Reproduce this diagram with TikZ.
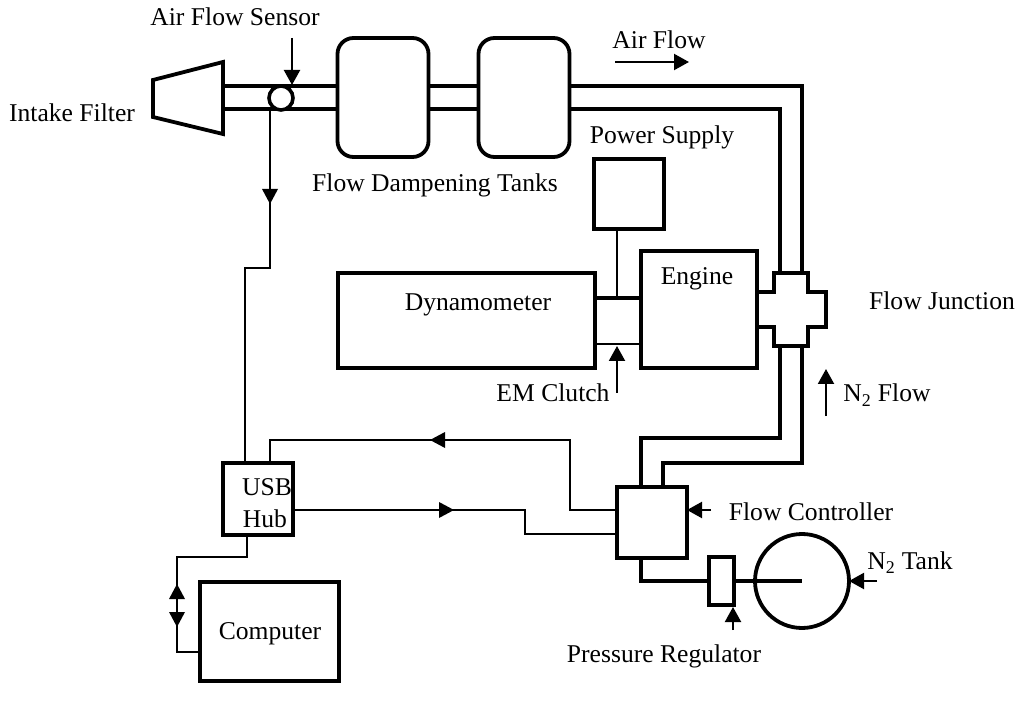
\documentclass[tikz,border=0pt]{standalone}
\usepackage{fontspec}
\setmainfont{Liberation Serif}
\usetikzlibrary{arrows.meta}
\newcommand{\pxu}[1]{#1*0.75pt}
\tikzset{
  x=0.75pt,y=-0.75pt,
  box/.style={draw=black,line width=\pxu{3.8},inner sep=0pt,outer sep=0pt,fill=white},
  tank/.style={box,rounded corners=\pxu{16},minimum width=\pxu{91},minimum height=\pxu{119}},
  pipe/.style={draw=black,line width=\pxu{3.6},line cap=butt,line join=miter},
  wire/.style={draw=black,line width=\pxu{2.1},line join=miter},
  tipped/.style={wire,-{Triangle[length=\pxu{15},width=\pxu{16}]}},
  lbl/.style={font=\fontsize{19.2pt}{23pt}\selectfont,anchor=base,inner sep=0pt,text=black}
}
\begin{document}
\begin{tikzpicture}
\useasboundingbox (0,0) rectangle (1018,702);
% named levels
\coordinate (topY) at (0,86);
\coordinate (botY) at (0,109);
\coordinate (outerX) at (802,0);
\coordinate (innerX) at (780,0);

% tanks
\node[tank] (tankA) at (383,97.5) {};
\node[tank] (tankB) at (524,97.5) {};

% intake filter
\draw[box,line join=miter] (153,80) -- (223,62) -- (223,134) -- (153,117) -- cycle;
\coordinate (filterTop) at (223,86);
\coordinate (filterBot) at (223,109);

% junction
\draw[box,line join=miter,fill=none] (757,292) -- (774,292) -- (774,273) -- (808,273) -- (808,292) -- (826,292) -- (826,327) -- (808,327) -- (808,346) -- (774,346) -- (774,327) -- (757,327);
\coordinate (junIn) at (780,273);
\coordinate (junOut) at (802,273);
\coordinate (junInB) at (780,346);
\coordinate (junOutB) at (802,346);

% boxes
\node[box,minimum width=\pxu{257},minimum height=\pxu{95}] (dyno) at (466.5,320.5) {};
\node[box,minimum width=\pxu{116},minimum height=\pxu{117}] (engine) at (699,309.5) {};
\node[box,minimum width=\pxu{70},minimum height=\pxu{70}] (power) at (629,194) {};
\node[box,minimum width=\pxu{70},minimum height=\pxu{71}] (ctrl) at (652,522.5) {};
\node[box,minimum width=\pxu{25},minimum height=\pxu{48}] (reg) at (721.5,581) {};
\node[box,minimum width=\pxu{70},minimum height=\pxu{72}] (hub) at (258,499) {};
\node[box,minimum width=\pxu{139},minimum height=\pxu{99}] (comp) at (269.5,631.5) {};
\node[draw=black,line width=\pxu{3.8},circle,inner sep=0pt,outer sep=0pt,minimum size=\pxu{94}] (tankN) at (802,581) {};

% air pipes
\draw[pipe] (filterTop) -- (tankA.west |- topY);
\draw[pipe] (filterBot) -- (tankA.west |- botY);
\draw[pipe] (tankA.east |- topY) -- (tankB.west |- topY);
\draw[pipe] (tankA.east |- botY) -- (tankB.west |- botY);
\draw[pipe] (tankB.east |- topY) -- (outerX |- topY) -- (junOut);
\draw[pipe] (tankB.east |- botY) -- (innerX |- botY) -- (junIn);

% sensor
\node[draw=black,fill=white,line width=\pxu{3.6},circle,inner sep=0pt,outer sep=0pt,minimum size=\pxu{24}] (sensor) at (281,98) {};

% clutch
\coordinate (clutchTL) at (595,298);
\coordinate (clutchTR) at (641,298);
\coordinate (clutchBL) at (595,344);
\coordinate (clutchBR) at (641,344);
\draw[pipe] (clutchTL) -- (clutchTR);
\draw[wire,line width=\pxu{2.6}] (clutchBL) -- (clutchBR);
\coordinate (powerFoot) at (617,298);
\draw[wire] (power.south -| powerFoot) -- (powerFoot);

% nitrogen pipes
\coordinate (ctrlIn) at (641,487);
\coordinate (ctrlOut) at (663,487);
\draw[pipe] (junInB) -- (780,438) -- (641,438) -- (ctrlIn);
\draw[pipe] (junOutB) -- (802,463) -- (663,463) -- (ctrlOut);
\coordinate (ctrlBot) at (641,558);
\draw[pipe] (ctrlBot) -- (641,581) -- (reg.west);
\draw[pipe] (reg.east) -- (tankN.center);

% signal wires
\coordinate (sensorFoot) at (270,109);
\coordinate (hubTopL) at (245,463);
\coordinate (hubTopR) at (270,463);
\coordinate (hubBot) at (247,535);
\coordinate (compL) at (200,652);
\draw[wire] (sensorFoot) -- (270,268) -- (245,268) -- (hubTopL);
\draw[wire] (hubTopR) -- (270,440) -- (570,440) -- (570,510) -- (ctrl.west |- 0,510);
\draw[wire] (hub.east |- 0,510) -- (525,510) -- (525,534) -- (ctrl.west |- 0,534);
\draw[wire] (hubBot) -- (247,557) -- (177,557) -- (177,652) -- (compL);
\fill (270,204) -- (262,189) -- (278,189) -- cycle;
\fill (430,440) -- (445,432) -- (445,448) -- cycle;
\fill (454,510) -- (439,502) -- (439,518) -- cycle;
\fill (177,584) -- (169,599) -- (185,599) -- cycle;
\fill (177,627) -- (169,612) -- (185,612) -- cycle;

% pointers
\coordinate (sensorSrc) at (292,38);
\coordinate (sensorTip) at (292,85);
\coordinate (airA) at (615,62);
\coordinate (airB) at (689,62);
\coordinate (clutchSrc) at (617,393);
\coordinate (clutchTip) at (617,346);
\coordinate (nflowA) at (826,416);
\coordinate (nflowB) at (826,369);
\coordinate (fcSrc) at (711,510);
\coordinate (regSrc) at (733,630);
\coordinate (regTip) at (733,607);
\coordinate (ntSrc) at (877,581);
\draw[tipped] (sensorSrc) -- (sensorTip);
\draw[tipped] (airA) -- (airB);
\draw[tipped] (clutchSrc) -- (clutchTip);
\draw[tipped] (nflowA) -- (nflowB);
\draw[tipped] (fcSrc) -- (ctrl.east |- fcSrc);
\draw[tipped] (regSrc) -- (regTip);
\draw[tipped] (ntSrc) -- (tankN.east |- ntSrc);

% labels
\node[lbl] (tAFS) at (235,26) {Air Flow Sensor};
\node[lbl] (tIF) at (72,122) {Intake Filter};
\node[lbl] (tFDT) at (435,192) {Flow Dampening Tanks};
\node[lbl] (tAF) at (659,49) {Air Flow};
\node[lbl] (tPS) at (662,144) {Power Supply};
\node[lbl] (tDy) at (478,311) {Dynamometer};
\node[lbl] (tEn) at (697,285) {Engine};
\node[lbl] (tFJ) at (942,310) {Flow Junction};
\node[lbl] (tEM) at (553,402) {EM Clutch};
\node[lbl] (tNF) at (887,402) {N\textsubscript{2} Flow};
\node[lbl] (tUS) at (267,495) {USB};
\node[lbl] (tHu) at (265,527) {Hub};
\node[lbl] (tFC) at (811,520) {Flow Controller};
\node[lbl] (tNT) at (910,569) {N\textsubscript{2} Tank};
\node[lbl] (tPR) at (664,662) {Pressure Regulator};
\node[lbl] (tCo) at (270,639) {Computer};
\end{tikzpicture}
\end{document}
